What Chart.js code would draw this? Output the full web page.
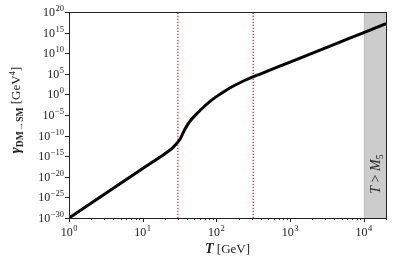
<!DOCTYPE html>
<html>
<head>
<meta charset="utf-8">
<script src="https://cdn.jsdelivr.net/npm/chart.js@4.4.1/dist/chart.umd.min.js"></script>
<style>
  html, body { margin: 0; padding: 0; background: #fff; }
  #wrap { width: 393px; height: 266px; }
</style>
</head>
<body>
<div id="wrap"><canvas id="rateChart"></canvas></div>
<script>
// temperatures (GeV) and rate values
var tempVals = [1, 10, 20, 25, 28.9, 32.1, 35.6, 39.5, 43.9, 54.1, 66.5, 82, 101, 124.5, 170, 233, 318, 400, 1000, 3160, 10000, 20000];
var gammaVals = [1e-30, 1e-18, 4.0e-15, 7.9e-14, 1.26e-12, 1.26e-11, 6.3e-10, 2.0e-8, 3.2e-7, 2.0e-5, 7.6e-4, 0.0195, 0.33, 4.0, 107, 1780, 2.0e4, 1.0e5, 7.2e7, 2.75e11, 1.0e15, 1.4e17];

var markerTemps = [30, 316];          // red dotted lines
var bandRange = [1e4, 2e4];           // shaded T > M5 region
var xMajorExps = [0, 1, 2, 3, 4];
var yMajorExps = [20, 15, 10, 5, 0, -5, -10, -15, -20, -25, -30];

var serif = '"Liberation Serif", "DejaVu Serif", serif';

function drawPow(ctx, x, y, exp, align){
  // "10" with a raised exponent
  ctx.save();
  ctx.textBaseline = 'alphabetic';
  ctx.font = '12px ' + serif;
  var wb = ctx.measureText('10').width;
  ctx.font = '8.5px ' + serif;
  var expTxt = String(exp).replace('-', '\u2212');
  var we = ctx.measureText(expTxt).width;
  var total = wb + we + 0.5;
  var left = align === 'right' ? x - total : x - total / 2;
  ctx.fillStyle = '#222';
  ctx.textAlign = 'left';
  ctx.font = '12px ' + serif;
  ctx.fillText('10', left, y);
  ctx.font = '8.5px ' + serif;
  ctx.fillText(expTxt, left + wb + 0.5, y - 5);
  ctx.restore();
}

var bandPlugin = {
  id: 'band',
  beforeDatasetsDraw: function(chart){
    var ctx = chart.ctx, area = chart.chartArea;
    var xs = chart.scales.x;
    var x0 = xs.getPixelForValue(bandRange[0]);
    var x1 = xs.getPixelForValue(bandRange[1]);
    ctx.save();
    ctx.fillStyle = 'rgb(204,204,204)';
    ctx.fillRect(x0, area.top, x1 - x0, area.bottom - area.top);
    ctx.strokeStyle = 'rgb(190,190,190)';
    ctx.lineWidth = 1;
    ctx.beginPath();
    ctx.moveTo(Math.round(x0) + 0.5, area.top);
    ctx.lineTo(Math.round(x0) + 0.5, area.bottom);
    ctx.stroke();

    // rotated label inside the band
    ctx.translate((x0 + x1) / 2 + 5, 174);
    ctx.rotate(-Math.PI / 2);
    ctx.fillStyle = '#222';
    ctx.textBaseline = 'alphabetic';
    ctx.textAlign = 'left';
    var bits = [
      { t: 'T', f: 'italic 14px ' + serif, dy: 0 },
      { t: ' > ', f: '14px ' + serif, dy: 0 },
      { t: 'M', f: 'italic 14px ' + serif, dy: 0 },
      { t: '5', f: '10px ' + serif, dy: 3 }
    ];
    var tot = 0;
    for(var b = 0; b < bits.length; b++){ ctx.font = bits[b].f; bits[b].w = ctx.measureText(bits[b].t).width; tot += bits[b].w; }
    var ox = -tot / 2;
    for(var c = 0; c < bits.length; c++){
      ctx.font = bits[c].f;
      ctx.fillText(bits[c].t, ox, bits[c].dy);
      ox += bits[c].w;
    }
    ctx.restore();
  }
};

var framePlugin = {
  id: 'frame',
  afterDraw: function(chart){
    var ctx = chart.ctx, area = chart.chartArea;
    var xs = chart.scales.x, ys = chart.scales.y;
    ctx.save();
    ctx.strokeStyle = '#222';
    ctx.lineWidth = 1;
    ctx.strokeRect(Math.round(area.left) + 0.5, Math.round(area.top) + 0.5,
      Math.round(area.right - area.left), Math.round(area.bottom - area.top));

    // x ticks, major and minor, outward
    ctx.beginPath();
    for(var e = 0; e <= 4; e++){
      for(var m = 1; m <= 9; m++){
        var v = m * Math.pow(10, e);
        if(v > xs.max) break;
        var px = Math.round(xs.getPixelForValue(v)) + 0.5;
        ctx.moveTo(px, area.bottom);
        ctx.lineTo(px, area.bottom + (m === 1 ? 4 : 2));
      }
    }
    for(var i = 0; i < yMajorExps.length; i++){
      var py = Math.round(ys.getPixelForValue(Math.pow(10, yMajorExps[i]))) + 0.5;
      ctx.moveTo(area.left, py);
      ctx.lineTo(area.left - 4, py);
    }
    ctx.stroke();

    for(var j = 0; j < xMajorExps.length; j++){
      drawPow(ctx, xs.getPixelForValue(Math.pow(10, xMajorExps[j])), area.bottom + 18, xMajorExps[j], 'center');
    }
    for(var k = 0; k < yMajorExps.length; k++){
      drawPow(ctx, area.left - 5, ys.getPixelForValue(Math.pow(10, yMajorExps[k])) + 4, yMajorExps[k], 'right');
    }

    // x title
    ctx.fillStyle = '#222';
    ctx.textBaseline = 'alphabetic';
    ctx.textAlign = 'left';
    ctx.font = 'bold italic 14px ' + serif;
    var wT = ctx.measureText('T').width;
    ctx.font = '13px ' + serif;
    var wG = ctx.measureText(' [GeV]').width;
    var sx = (area.left + area.right) / 2 - (wT + wG) / 2;
    ctx.font = 'bold italic 14px ' + serif;
    ctx.fillText('T', sx, 253);
    ctx.font = '13px ' + serif;
    ctx.fillText(' [GeV]', sx + wT, 253);

    // y title
    ctx.translate(20, 110);
    ctx.rotate(-Math.PI / 2);
    var parts = [
      { t: '\u03B3', f: 'bold italic 15px ' + serif, dy: 0 },
      { t: 'DM\u2192SM', f: 'bold 9.5px ' + serif, dy: 3 },
      { t: ' [GeV', f: '13px ' + serif, dy: 0 },
      { t: '4', f: '9px ' + serif, dy: -5 },
      { t: ']', f: '13px ' + serif, dy: 0 }
    ];
    var tot = 0;
    for(var p = 0; p < parts.length; p++){ ctx.font = parts[p].f; parts[p].w = ctx.measureText(parts[p].t).width; tot += parts[p].w; }
    var ox = -tot / 2;
    for(var q = 0; q < parts.length; q++){
      ctx.font = parts[q].f;
      ctx.fillText(parts[q].t, ox, parts[q].dy);
      ox += parts[q].w;
    }
    ctx.restore();
  }
};

var curvePoints = [];
for(var i = 0; i < tempVals.length; i++) curvePoints.push({ x: tempVals[i], y: gammaVals[i] });

var datasets = [{
  data: curvePoints,
  borderColor: '#000', borderWidth: 3,
  pointRadius: 0, fill: false,
  cubicInterpolationMode: 'monotone'
}];
for(var m = 0; m < markerTemps.length; m++){
  datasets.push({
    data: [{ x: markerTemps[m], y: 1e-30 }, { x: markerTemps[m], y: 1e20 }],
    borderColor: 'rgb(255,30,30)', borderWidth: 1.3,
    borderDash: [1.3, 1.7], pointRadius: 0, fill: false
  });
}

new Chart(document.getElementById('rateChart').getContext('2d'), {
  type: 'line',
  data: { datasets: datasets },
  options: {
    responsive: true, maintainAspectRatio: false,
    animation: false,
    layout: { padding: { top: 12, right: 7, left: 0, bottom: 0 } },
    scales: {
      x: {
        type: 'logarithmic', min: 1, max: 2e4,
        grid: { display: false }, border: { display: false },
        ticks: { display: false },
        afterFit: function(s){ s.height = 48; }
      },
      y: {
        type: 'logarithmic', min: 1e-30, max: 1e20,
        grid: { display: false }, border: { display: false },
        ticks: { display: false },
        afterFit: function(s){ s.width = 69; }
      }
    },
    plugins: { legend: { display: false }, tooltip: { enabled: false } }
  },
  plugins: [bandPlugin, framePlugin]
});
</script>
</body>
</html>
